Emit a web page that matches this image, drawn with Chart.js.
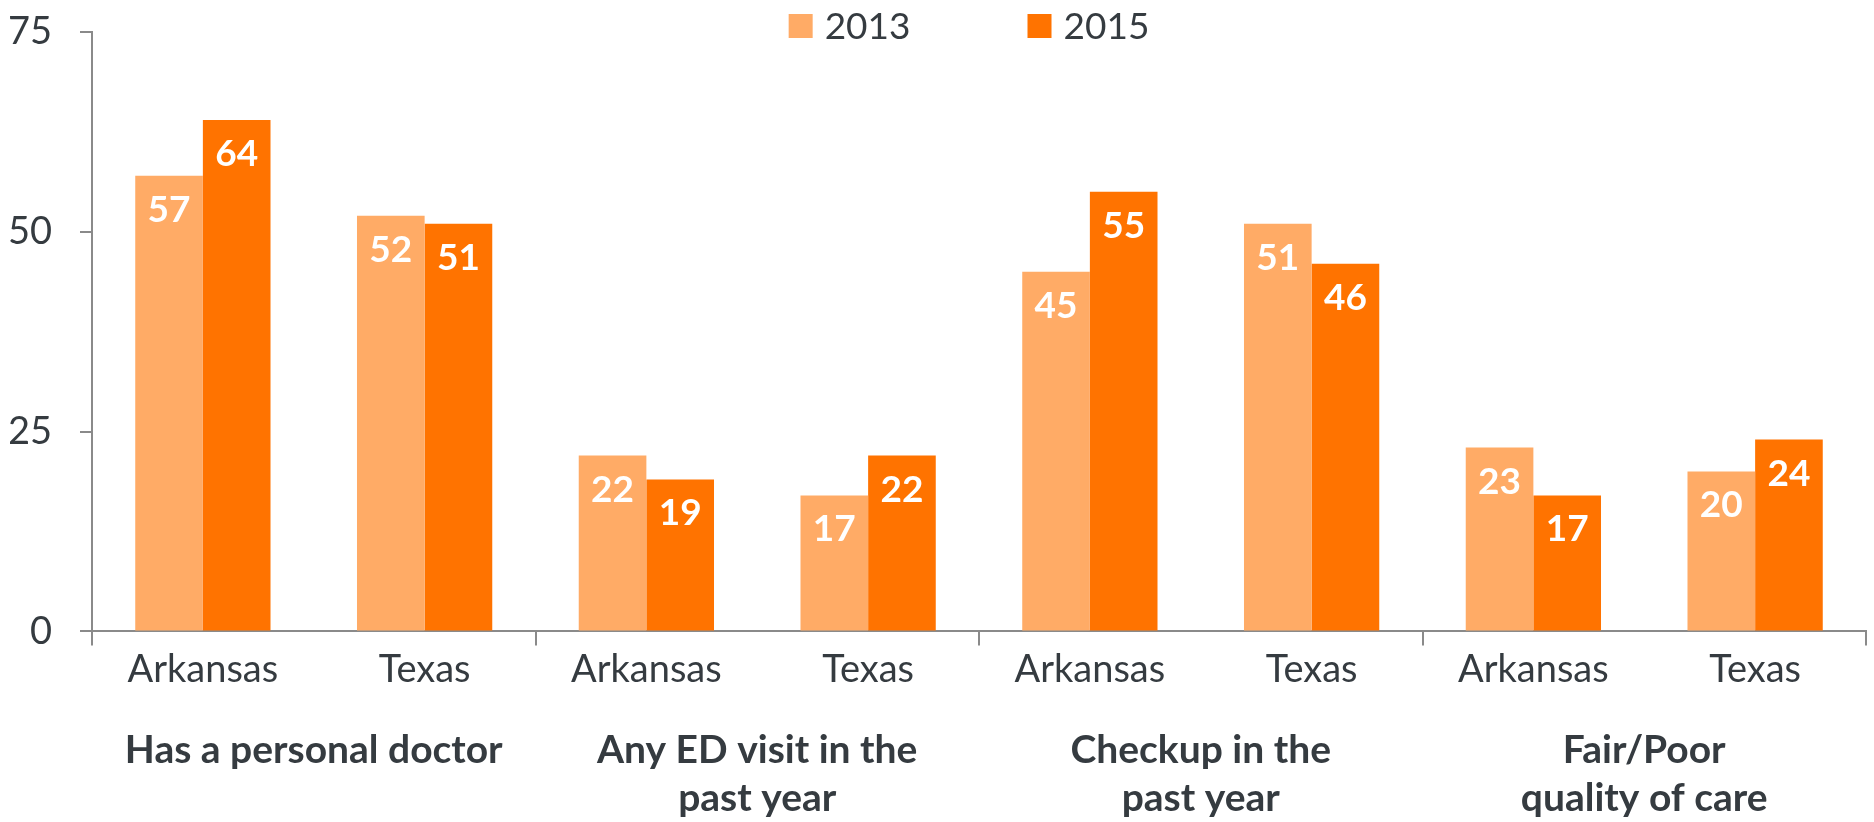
<!DOCTYPE html>
<html>
<head>
<meta charset="utf-8">
<script src="https://cdn.jsdelivr.net/npm/chart.js@4/dist/chart.umd.min.js"></script>
<style>
  html, body { margin: 0; padding: 0; background: #fff; }
  #wrap { width: 1874px; height: 822px; }
</style>
</head>
<body>
<div id="wrap"><canvas id="chart"></canvas></div>
<script>
const states = ['Arkansas', 'Texas', 'Arkansas', 'Texas', 'Arkansas', 'Texas', 'Arkansas', 'Texas'];
const groupNames = [['Has a personal doctor'], ['Any ED visit in the', 'past year'], ['Checkup in the', 'past year'], ['Fair/Poor', 'quality of care']];
const values2013 = [57, 52, 22, 17, 45, 51, 23, 20];
const values2015 = [64, 51, 19, 22, 55, 46, 17, 24];
const yTicks = [0, 25, 50, 75];

const textColor = '#353b40';
const axisColor = '#8a8a8a';
const fontFamily = 'Lato, "Open Sans", sans-serif';

// white numbers inside the top of each bar
const barLabels = {
	id: 'barLabels',
	afterDatasetsDraw(chart){
		const ctx = chart.ctx;
		ctx.save();
		ctx.fillStyle = '#fff';
		ctx.font = `bold 37px ${fontFamily}`;
		ctx.textAlign = 'center';
		ctx.textBaseline = 'middle';
		chart.data.datasets.forEach((ds, i) => {
			chart.getDatasetMeta(i).data.forEach((bar, j) => {
				ctx.fillText(ds.data[j], bar.x, bar.y + 34);
			});
		});
		ctx.restore();
	}
};

// bold question names under each pair of states
const groupLabels = {
	id: 'groupLabels',
	afterDraw(chart){
		const ctx = chart.ctx;
		const x = chart.scales.x;
		ctx.save();
		ctx.fillStyle = textColor;
		ctx.font = `bold 39px ${fontFamily}`;
		ctx.textAlign = 'center';
		ctx.textBaseline = 'middle';
		groupNames.forEach((lines, g) => {
			const cx = (x.getPixelForValue(g * 2) + x.getPixelForValue(g * 2 + 1)) / 2;
			lines.forEach((line, k) => {
				ctx.fillText(line, cx, chart.chartArea.bottom + 119 + k * 48);
			});
		});
		ctx.restore();
	}
};

// legend drawn over the top of the plot
const topLegend = {
	id: 'topLegend',
	afterDraw(chart){
		const ctx = chart.ctx;
		ctx.save();
		ctx.font = `37px ${fontFamily}`;
		ctx.textBaseline = 'middle';
		const box = 24, gap = 12, spacing = 117;
		const items = chart.data.datasets.map(ds => ({label: ds.label, color: ds.backgroundColor, w: ctx.measureText(ds.label).width}));
		const total = items.reduce((s, it) => s + box + gap + it.w, 0) + spacing * (items.length - 1);
		const area = chart.chartArea;
		let left = (area.left + area.right) / 2 - 10 - total / 2;
		const cy = 26;
		items.forEach(it => {
			ctx.fillStyle = it.color;
			ctx.fillRect(left, cy - box / 2, box, box);
			ctx.fillStyle = textColor;
			ctx.fillText(it.label, left + box + gap, cy + 1);
			left += box + gap + it.w + spacing;
		});
		ctx.restore();
	}
};

new Chart(document.getElementById('chart'), {
	type: 'bar',
	data: {
		labels: states,
		datasets: [
			{label: '2013', data: values2013, backgroundColor: '#ffab66', categoryPercentage: 0.61, barPercentage: 1.0},
			{label: '2015', data: values2015, backgroundColor: '#ff7300', categoryPercentage: 0.61, barPercentage: 1.0}
		]
	},
	options: {
		responsive: true,
		maintainAspectRatio: false,
		animation: false,
		layout: {padding: {top: 32, left: 10, right: 8, bottom: 127}},
		plugins: {
			legend: {display: false},
			tooltip: {enabled: false}
		},
		scales: {
			x: {
				afterFit: (axis) => { axis.paddingLeft = 0; axis.paddingRight = 0; },
				grid: {
					offset: true,
					drawOnChartArea: false,
					tickLength: 14,
					lineWidth: 2,
					color: (c) => (c.index === undefined || c.index % 2 === 0) ? axisColor : 'rgba(0,0,0,0)'
				},
				border: {display: true, color: axisColor, width: 2},
				ticks: {color: textColor, font: {family: fontFamily, size: 38}, padding: 2, maxRotation: 0}
			},
			y: {
				min: 0,
				max: 75,
				afterBuildTicks: (axis) => { axis.ticks = yTicks.map(v => ({value: v})); },
				afterFit: (axis) => { axis.width = 82; axis.paddingTop = 0; axis.paddingBottom = 0; },
				grid: {drawOnChartArea: false, tickLength: 12, lineWidth: 2, color: axisColor},
				border: {display: true, color: axisColor, width: 2},
				ticks: {color: textColor, font: {family: fontFamily, size: 38}, padding: 28}
			}
		}
	},
	plugins: [barLabels, groupLabels, topLegend]
});
</script>
</body>
</html>
